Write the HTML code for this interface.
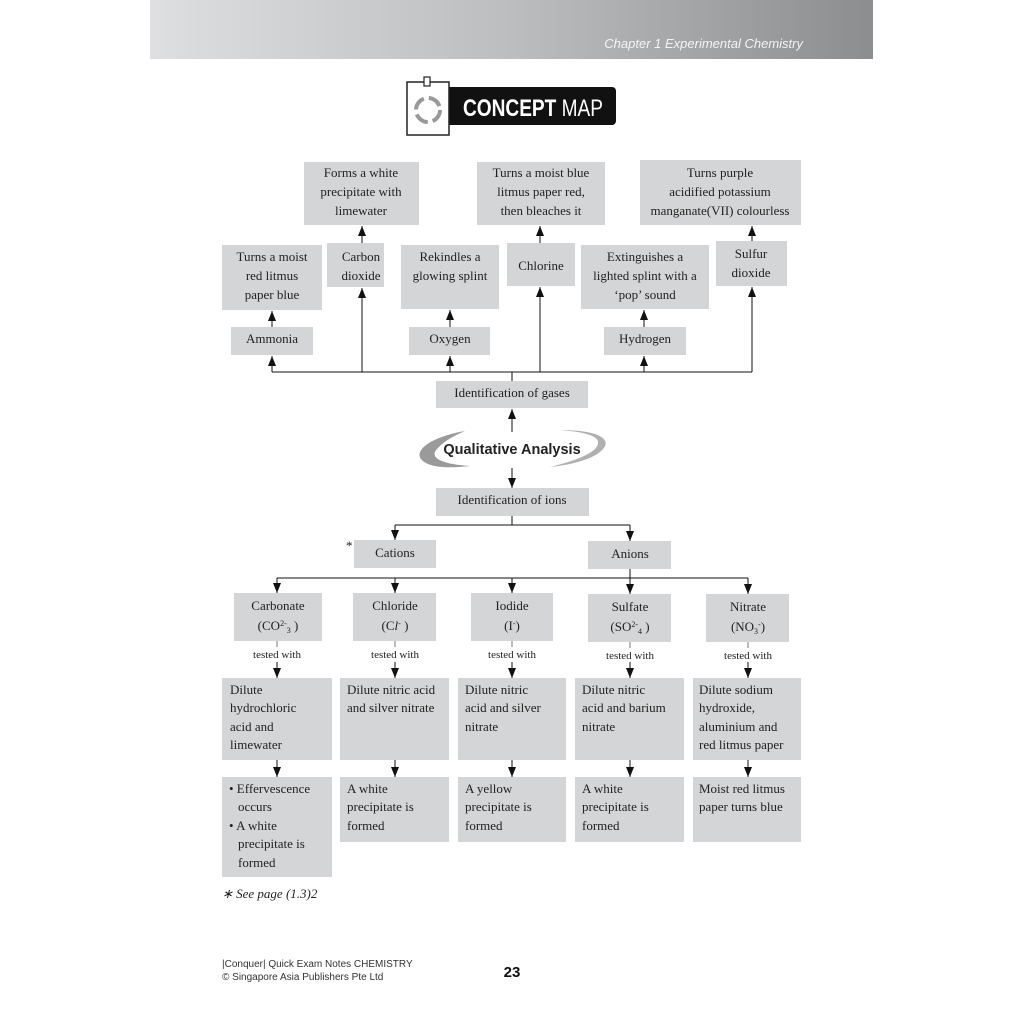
<!DOCTYPE html>
<html><head><meta charset="utf-8"><style>
html,body{margin:0;padding:0;background:#fff;}
svg{display:block}
.t{font-family:"Liberation Serif",serif;font-size:13px;fill:#222}
.s{font-family:"Liberation Sans",sans-serif}
</style></head><body>
<svg width="1024" height="1024" viewBox="0 0 1024 1024" xmlns="http://www.w3.org/2000/svg">
<defs>
<linearGradient id="hg" x1="0" x2="1" y1="0" y2="0">
<stop offset="0" stop-color="#dedfe0"/><stop offset="0.5" stop-color="#bcbdbf"/><stop offset="1" stop-color="#8c8d8f"/>
</linearGradient>
<marker id="a" markerWidth="10" markerHeight="8" refX="10" refY="4" orient="auto" markerUnits="userSpaceOnUse" viewBox="0 0 10 8">
<path d="M0,0 L10,4 L0,8 Z" fill="#111"/>
</marker>
</defs>
<rect x="150" y="0" width="723" height="59" fill="url(#hg)"/>
<text x="803" y="48" text-anchor="end" class="s" font-style="italic" font-size="13" fill="#f4f4f4">Chapter 1  Experimental Chemistry</text>

<!-- logo -->
<rect x="440" y="87" width="176" height="38" rx="4" fill="#111"/>
<rect x="407" y="82" width="42" height="53" fill="#fff" stroke="#222" stroke-width="1.5"/>
<rect x="424" y="77" width="6" height="9" fill="#fff" stroke="#222" stroke-width="1.2"/>
<circle cx="428" cy="110" r="12" fill="none" stroke="#999" stroke-width="4" stroke-dasharray="14 5"/>
<text x="463" y="116" class="s" font-size="24" fill="#fff" font-weight="bold" textLength="140" lengthAdjust="spacingAndGlyphs">CONCEPT <tspan font-weight="normal">MAP</tspan></text>

<g fill="#d4d5d6">
<rect x="304" y="162" width="115" height="63"/>
<rect x="477" y="162" width="128" height="63"/>
<rect x="640" y="160" width="161" height="65"/>
<rect x="222" y="245" width="100" height="65"/>
<rect x="327" y="243" width="57" height="44"/>
<rect x="401" y="245" width="98" height="64"/>
<rect x="507" y="243" width="68" height="43"/>
<rect x="581" y="245" width="128" height="64"/>
<rect x="716" y="241" width="71" height="45"/>
<rect x="231" y="327" width="82" height="28"/>
<rect x="409" y="327" width="81" height="28"/>
<rect x="604" y="327" width="82" height="28"/>
<rect x="436" y="381" width="152" height="27"/>
<rect x="436" y="488" width="153" height="28"/>
<rect x="354" y="540" width="82" height="28"/>
<rect x="588" y="541" width="83" height="28"/>
<rect x="234" y="593" width="88" height="48"/>
<rect x="353" y="593" width="83" height="48"/>
<rect x="471" y="593" width="82" height="48"/>
<rect x="588" y="594" width="83" height="48"/>
<rect x="706" y="594" width="83" height="48"/>
<rect x="222" y="678" width="110" height="82"/>
<rect x="340" y="678" width="109" height="82"/>
<rect x="458" y="678" width="108" height="82"/>
<rect x="575" y="678" width="109" height="82"/>
<rect x="693" y="678" width="108" height="82"/>
<rect x="222" y="777" width="110" height="100"/>
<rect x="340" y="777" width="109" height="65"/>
<rect x="458" y="777" width="108" height="65"/>
<rect x="575" y="777" width="109" height="65"/>
<rect x="693" y="777" width="108" height="65"/>
</g>

<g stroke="#111" stroke-width="1" fill="none">
<path d="M272,372 H752 M512,372 V381"/>
<path d="M272,372 V356" marker-end="url(#a)"/>
<path d="M362,372 V288" marker-end="url(#a)"/>
<path d="M450,372 V356" marker-end="url(#a)"/>
<path d="M540,372 V287" marker-end="url(#a)"/>
<path d="M644,372 V356" marker-end="url(#a)"/>
<path d="M752,372 V287" marker-end="url(#a)"/>
<path d="M272,327 V311" marker-end="url(#a)"/>
<path d="M450,327 V310" marker-end="url(#a)"/>
<path d="M644,327 V310" marker-end="url(#a)"/>
<path d="M362,243 V226" marker-end="url(#a)"/>
<path d="M540,243 V226" marker-end="url(#a)"/>
<path d="M752,241 V226" marker-end="url(#a)"/>
<path d="M512,432 V409" marker-end="url(#a)"/>
<path d="M512,468 V488" marker-end="url(#a)"/>
<path d="M512,516 V525 M395,525 H630 M630,569 V578 M277,578 H748"/>
<path d="M395,525 V540" marker-end="url(#a)"/>
<path d="M630,525 V541" marker-end="url(#a)"/>
<path d="M277,578 V593" marker-end="url(#a)"/>
<path d="M395,578 V593" marker-end="url(#a)"/>
<path d="M512,578 V593" marker-end="url(#a)"/>
<path d="M630,578 V594" marker-end="url(#a)"/>
<path d="M748,578 V594" marker-end="url(#a)"/>
<g stroke="#777"><path d="M277,641 V647 M395,641 V647 M512,641 V647 M630,642 V648 M748,642 V648"/></g>
<path d="M277,662 V678" marker-end="url(#a)"/>
<path d="M395,662 V678" marker-end="url(#a)"/>
<path d="M512,662 V678" marker-end="url(#a)"/>
<path d="M630,662 V678" marker-end="url(#a)"/>
<path d="M748,662 V678" marker-end="url(#a)"/>
<path d="M277,760 V777" marker-end="url(#a)"/>
<path d="M395,760 V777" marker-end="url(#a)"/>
<path d="M512,760 V777" marker-end="url(#a)"/>
<path d="M630,760 V777" marker-end="url(#a)"/>
<path d="M748,760 V777" marker-end="url(#a)"/>
</g>

<!-- swoosh -->
<path d="M465,431 C425,438 408,455 428,464 C440,469 460,467 470,466 C440,464 428,457 438,448 C445,440 458,434 465,431 Z" fill="#9a9a9a"/>
<path d="M560,430 C600,430 615,440 600,452 C590,460 570,465 550,467 C575,461 596,453 598,444 C600,436 585,432 560,430 Z" fill="#b0b0b0"/>
<text x="512" y="454" text-anchor="middle" class="s" font-weight="bold" font-size="14.5" fill="#222">Qualitative Analysis</text>

<g class="t" text-anchor="middle">
<text x="361" y="177">Forms a white</text><text x="361" y="196">precipitate with</text><text x="361" y="215">limewater</text>
<text x="541" y="177">Turns a moist blue</text><text x="541" y="196">litmus paper red,</text><text x="541" y="215">then bleaches it</text>
<text x="720" y="177">Turns purple</text><text x="720" y="196">acidified potassium</text><text x="720" y="215">manganate(VII) colourless</text>
<text x="272" y="261">Turns a moist</text><text x="272" y="280">red litmus</text><text x="272" y="299">paper blue</text>
<text x="361" y="261">Carbon</text><text x="361" y="280">dioxide</text>
<text x="450" y="261">Rekindles a</text><text x="450" y="280">glowing splint</text>
<text x="541" y="270">Chlorine</text>
<text x="645" y="261">Extinguishes a</text><text x="645" y="280">lighted splint with a</text><text x="645" y="299">‘pop’ sound</text>
<text x="751" y="258">Sulfur</text><text x="751" y="277">dioxide</text>
<text x="272" y="343">Ammonia</text>
<text x="450" y="343">Oxygen</text>
<text x="645" y="343">Hydrogen</text>
<text x="512" y="397">Identification of gases</text>
<text x="512" y="504">Identification of ions</text>
<text x="395" y="557">Cations</text>
<text x="630" y="558">Anions</text>
<text x="278" y="610">Carbonate</text><text x="278" y="630">(CO<tspan font-size="8" dy="-4">2-</tspan><tspan font-size="8" dy="7">3</tspan><tspan dy="-3"> )</tspan></text>
<text x="395" y="610">Chloride</text><text x="395" y="630">(C<tspan font-style="italic">l</tspan><tspan font-size="8" dy="-4">-</tspan><tspan dy="4"> )</tspan></text>
<text x="512" y="610">Iodide</text><text x="512" y="630">(I<tspan font-size="8" dy="-4">-</tspan><tspan dy="4">)</tspan></text>
<text x="630" y="611">Sulfate</text><text x="630" y="631">(SO<tspan font-size="8" dy="-4">2-</tspan><tspan font-size="8" dy="7">4</tspan><tspan dy="-3"> )</tspan></text>
<text x="748" y="611">Nitrate</text><text x="748" y="631">(NO<tspan font-size="8" dy="3">3</tspan><tspan font-size="8" dy="-7">-</tspan><tspan dy="4">)</tspan></text>
<g font-size="11"><text x="277" y="658">tested with</text><text x="395" y="658">tested with</text><text x="512" y="658">tested with</text><text x="630" y="659">tested with</text><text x="748" y="659">tested with</text></g>
</g>
<g class="t">
<text x="230" y="694">Dilute</text><text x="230" y="712">hydrochloric</text><text x="230" y="731">acid and</text><text x="230" y="749">limewater</text>
<text x="347" y="694">Dilute nitric acid</text><text x="347" y="712">and silver nitrate</text>
<text x="465" y="694">Dilute nitric</text><text x="465" y="712">acid and silver</text><text x="465" y="731">nitrate</text>
<text x="582" y="694">Dilute nitric</text><text x="582" y="712">acid and barium</text><text x="582" y="731">nitrate</text>
<text x="699" y="694">Dilute sodium</text><text x="699" y="712">hydroxide,</text><text x="699" y="731">aluminium and</text><text x="699" y="749">red litmus paper</text>
<text x="229" y="793">• Effervescence</text><text x="238" y="811">occurs</text><text x="229" y="830">• A white</text><text x="238" y="848">precipitate is</text><text x="238" y="867">formed</text>
<text x="347" y="793">A white</text><text x="347" y="811">precipitate is</text><text x="347" y="830">formed</text>
<text x="465" y="793">A yellow</text><text x="465" y="811">precipitate is</text><text x="465" y="830">formed</text>
<text x="582" y="793">A white</text><text x="582" y="811">precipitate is</text><text x="582" y="830">formed</text>
<text x="699" y="793">Moist red litmus</text><text x="699" y="811">paper turns blue</text>
<text x="346" y="550">*</text>
<text x="222" y="898" font-style="italic">∗ See page (1.3)2</text>
</g>
<text x="222" y="967" class="s" font-size="10" fill="#333">|Conquer| Quick Exam Notes CHEMISTRY</text>
<text x="222" y="980" class="s" font-size="10" fill="#333">© Singapore Asia Publishers Pte Ltd</text>
<text x="512" y="977" text-anchor="middle" class="s" font-weight="bold" font-size="15" fill="#111">23</text>
</svg>
</body></html>
